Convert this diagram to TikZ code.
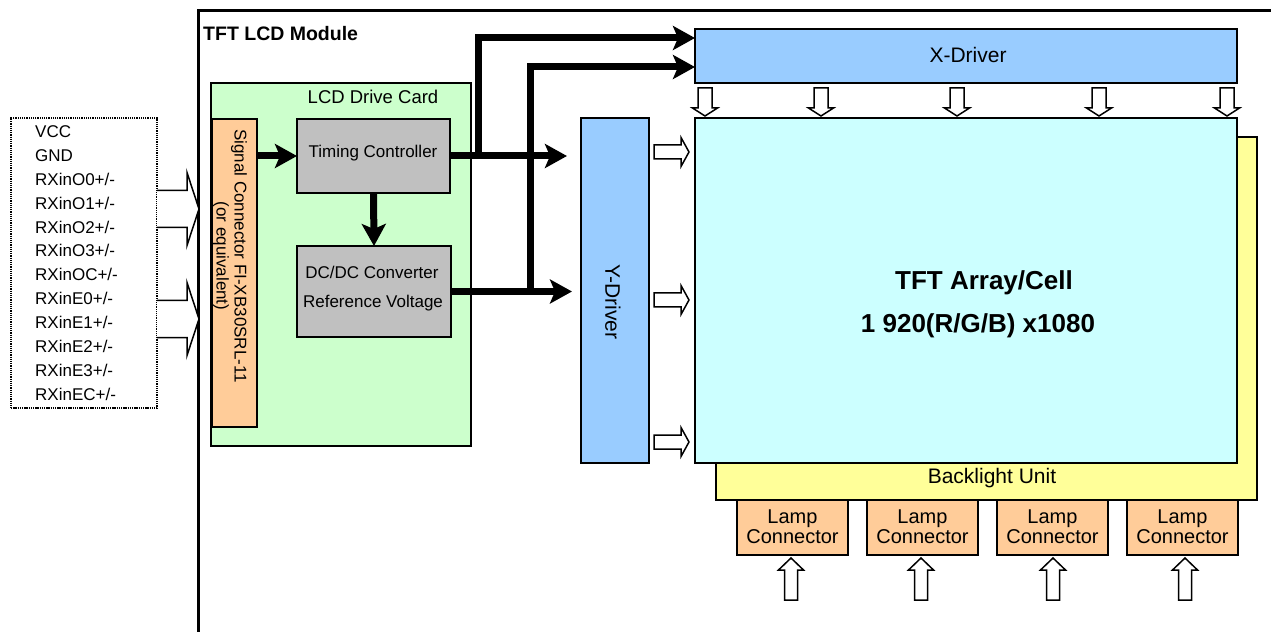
\documentclass[tikz,border=0pt]{standalone}
\usepackage{fontspec}
\setmainfont{Liberation Sans}
\usetikzlibrary{arrows.meta}
\definecolor{cgreen}{HTML}{CCFFCC}
\definecolor{corange}{HTML}{FFCC99}
\definecolor{cgray}{HTML}{C0C0C0}
\definecolor{cblue}{HTML}{99CCFF}
\definecolor{ccyan}{HTML}{CCFFFF}
\definecolor{cyellow}{HTML}{FFFF99}
\begin{document}
\begin{tikzpicture}[x=1bp,y=-1bp,
  box/.style={draw, line width=2.6bp, inner sep=0pt, outer sep=0pt, anchor=north west},
  txt/.style={font=\fontsize{17bp}{20bp}\selectfont, inner sep=0pt},
  bigtxt/.style={font=\fontsize{21bp}{20bp}\selectfont, inner sep=0pt},
  lamptxt/.style={font=\fontsize{20bp}{20bp}\selectfont, inner sep=0pt},
  boldtxt/.style={font=\fontsize{26bp}{30bp}\selectfont\bfseries, inner sep=0pt},
  thickarrow/.style={line width=7bp, -{Stealth[length=22bp,width=24bp,inset=5bp]}},
  hollow/.style={draw, fill=white, line width=1.5bp, line join=miter},
  rarrow/.pic={\draw[hollow] (0,-7) -- (27,-7) -- (27,-14.5) -- (35,0) -- (27,14.5) -- (27,7) -- (0,7) -- cycle;},
  darrow/.pic={\draw[hollow] (-7,0) -- (-7,20) -- (-12.5,20) -- (0,28) -- (12.5,20) -- (7,20) -- (7,0) -- cycle;},
  uarrow/.pic={\draw[hollow] (0,0) -- (12.5,12) -- (6.5,12) -- (6.5,42) -- (-6.5,42) -- (-6.5,12) -- (-12.5,12) -- cycle;},
  inarrow/.pic={\draw[hollow] (0,-18.5) -- (30,-18.5) -- (30,-36.5) -- (42,0) -- (30,36.5) -- (30,18.5) -- (0,18.5);}
]
\useasboundingbox (0,0) rectangle (1271,632);

% module frame
\draw[line width=3bp] (198,633) -- (198,11) -- (1272,11);
\node[anchor=base west, inner sep=0pt, font=\fontsize{19.5bp}{20bp}\selectfont\bfseries] (module) at (203,41) {TFT LCD Module};

% input signal list
\node[box, line width=2bp, dash pattern=on 1.3bp off 0.9bp, minimum width=146bp, minimum height=290bp] (inputs) at (11,118) {};
\foreach \t [count=\i from 0] in {VCC,GND,RXinO0+/-,RXinO1+/-,RXinO2+/-,RXinO3+/-,RXinOC+/-,RXinE0+/-,RXinE1+/-,RXinE2+/-,RXinE3+/-,RXinEC+/-}
  \node[txt, anchor=base west] (in\i) at (35,137.5+23.9*\i) {\t};
\pic at (157,209) {inarrow};
\pic at (157,319) {inarrow};

% LCD drive card
\node[box, fill=cgreen, minimum width=260bp, minimum height=363bp] (card) at (211,83) {};
\node[txt, font=\fontsize{18.5bp}{20bp}\selectfont] (cardtitle) at (373,97) {LCD Drive Card};
\node[box, fill=corange, minimum width=45bp, minimum height=308bp] (sig) at (212,119) {};
\node[txt, rotate=-90, align=center, font=\fontsize{17bp}{18bp}\selectfont] (sigtxt) at (230,256) {Signal Connector FI-XB30SRL-11\\(or equivalent)};
\node[box, fill=cgray, minimum width=153bp, minimum height=74bp] (tcon) at (297,119) {};
\node[txt] (tcontxt) at (373,153) {Timing Controller};
\node[box, fill=cgray, minimum width=154bp, minimum height=91bp] (dcdc) at (297,246) {};
\node[txt] (dctxt1) at (372,272) {DC/DC Converter};
\node[txt] (dctxt2) at (373,303) {Reference Voltage};

% drivers
\node[box, fill=cblue, minimum width=68bp, minimum height=345bp] (ydrv) at (581,118) {};
\node[bigtxt, rotate=-90] (ytxt) at (613,302) {Y-Driver};
\node[box, fill=cblue, minimum width=542bp, minimum height=54bp] (xdrv) at (695,29) {};
\node[bigtxt] (xtxt) at (968,55) {X-Driver};

% backlight and panel
\node[box, fill=cyellow, minimum width=541bp, minimum height=363bp] (blu) at (716,137) {};
\node[bigtxt] (blutxt) at (992,478) {Backlight Unit};
\node[box, fill=ccyan, minimum width=542bp, minimum height=345bp] (tft) at (695,118) {};
\node[boldtxt] (tfttxt1) at (984,283) {TFT Array/Cell};
\node[boldtxt] (tfttxt2) at (978,326) {1 920(R/G/B) x1080};

% lamp connectors
\foreach \k in {0,1,2,3}{
  \node[box, fill=corange, minimum width=111bp, minimum height=55bp] (lamp\k) at (737+130*\k,500) {};
  \node[lamptxt, align=center] (lamptxt\k) at (792.5+130*\k,527) {Lamp\\Connector};
}
\foreach \x in {791,921,1053,1185} \pic at (\x,558) {uarrow};

% hollow arrows to panel
\foreach \y in {152,300,442} \pic at (654,\y) {rarrow};
\foreach \x in {705,821,957,1099,1227} \pic at (\x,88) {darrow};

% thick signal arrows
\coordinate (xa) at (695,38);
\coordinate (xb) at (695,67);
\coordinate (b1) at (478,156);
\coordinate (b2) at (530,291.5);
\draw[thickarrow] (sig.east |- tcon.west) -- (tcon.west);
\draw[thickarrow] (tcon.south) -- (dcdc.north);
\draw[thickarrow, shorten >=14bp] (tcon.east) -- (tcon.east -| ydrv.west);
\draw[thickarrow, shorten >=9bp] (dcdc.east) -- (dcdc.east -| ydrv.west);
\draw[thickarrow] (b1) |- (xa);
\draw[thickarrow] (b2) |- (xb);
\end{tikzpicture}
\end{document}
